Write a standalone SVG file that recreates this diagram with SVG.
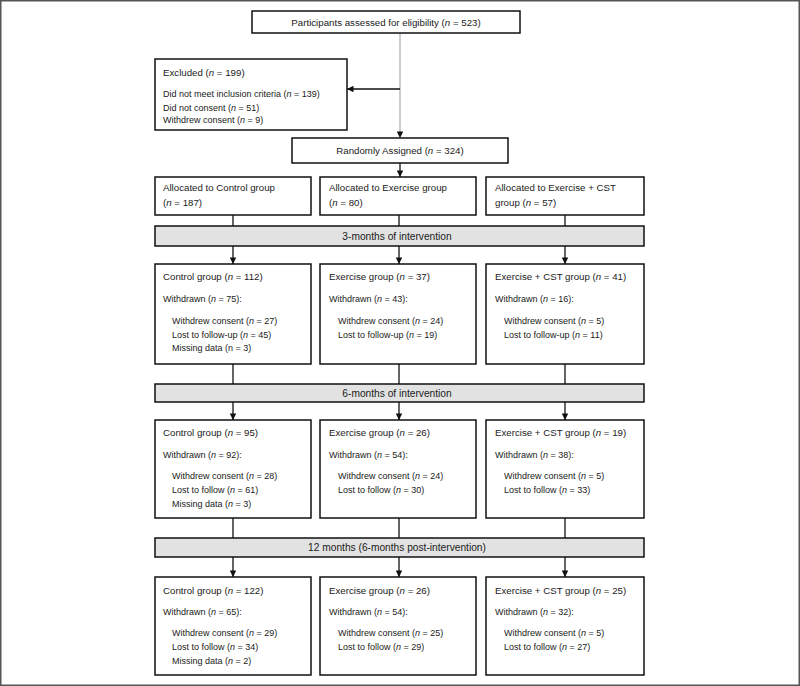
<svg xmlns="http://www.w3.org/2000/svg" width="800" height="686" viewBox="0 0 800 686">
<style>
  text { font-family: "Liberation Sans", Arial, sans-serif; fill: #1a1a1a; }
  .h { font-size: 9.7px; }
  .d { font-size: 9px; }
  .b { font-size: 10.2px; }
  .i { font-style: italic; }
  .box { fill: #fff; stroke: #111; stroke-width: 1.5; }
  .bar { fill: #e2e2e2; stroke: #111; stroke-width: 1.5; }
  .c { stroke: #111; stroke-width: 1.3; fill: none; }
  .g { stroke: #999; stroke-width: 1; fill: none; }
</style>
<defs>
  <marker id="ah" viewBox="0 0 10 10" refX="10" refY="5" markerWidth="7" markerHeight="6.5" orient="auto" markerUnits="userSpaceOnUse">
    <path d="M0,0 L10,5 L0,10 z" fill="#111"/>
  </marker>
</defs>
<rect x="0.75" y="0.75" width="798.5" height="684.5" fill="#fff" stroke="#555" stroke-width="1.5"/>

<g id="connectors">
  <line class="g" x1="400" y1="33" x2="400" y2="138" marker-end="url(#ah)"/>
  <line class="c" x1="400" y1="89" x2="347" y2="89" marker-end="url(#ah)"/>
  <line class="c" x1="400" y1="163" x2="400" y2="177" marker-end="url(#ah)"/>
  <line class="c" x1="233" y1="215" x2="233" y2="226"/>
  <line class="c" x1="399" y1="215" x2="399" y2="226"/>
  <line class="c" x1="565" y1="215" x2="565" y2="226"/>
  <line class="c" x1="233" y1="246" x2="233" y2="264" marker-end="url(#ah)"/>
  <line class="c" x1="399" y1="246" x2="399" y2="264" marker-end="url(#ah)"/>
  <line class="c" x1="565" y1="246" x2="565" y2="264" marker-end="url(#ah)"/>
  <line class="c" x1="233" y1="364" x2="233" y2="384"/>
  <line class="c" x1="399" y1="364" x2="399" y2="384"/>
  <line class="c" x1="565" y1="364" x2="565" y2="384"/>
  <line class="c" x1="233" y1="402" x2="233" y2="420" marker-end="url(#ah)"/>
  <line class="c" x1="399" y1="402" x2="399" y2="420" marker-end="url(#ah)"/>
  <line class="c" x1="565" y1="402" x2="565" y2="420" marker-end="url(#ah)"/>
  <line class="c" x1="233" y1="518" x2="233" y2="538"/>
  <line class="c" x1="399" y1="518" x2="399" y2="538"/>
  <line class="c" x1="565" y1="518" x2="565" y2="538"/>
  <line class="c" x1="233" y1="557" x2="233" y2="577" marker-end="url(#ah)"/>
  <line class="c" x1="399" y1="557" x2="399" y2="577" marker-end="url(#ah)"/>
  <line class="c" x1="565" y1="557" x2="565" y2="577" marker-end="url(#ah)"/>
</g>

<g id="assessed">
  <rect class="box" x="252" y="11" width="268" height="22"/>
  <text class="h" x="386" y="25.5" text-anchor="middle">Participants assessed for eligibility (<tspan class="i">n</tspan> = 523)</text>
</g>

<g id="excluded">
  <rect class="box" x="155" y="59" width="192" height="71"/>
  <text class="h" x="163" y="76">Excluded (<tspan class="i">n</tspan> = 199)</text>
  <text class="d" x="163" y="97">Did not meet inclusion criteria (<tspan class="i">n</tspan> = 139)</text>
  <text class="d" x="163" y="110.5">Did not consent (<tspan class="i">n</tspan> = 51)</text>
  <text class="d" x="163" y="123">Withdrew consent (<tspan class="i">n</tspan> = 9)</text>
</g>

<g id="randomized">
  <rect class="box" x="292" y="138" width="216" height="25"/>
  <text class="h" x="400" y="153.5" text-anchor="middle">Randomly Assigned (<tspan class="i">n</tspan> = 324)</text>
</g>

<g id="alloc-control">
  <rect class="box" x="155" y="177" width="156" height="38"/>
  <text class="h" x="163" y="191">Allocated to Control group</text>
  <text class="h" x="163" y="206">(<tspan class="i">n</tspan> = 187)</text>
</g>
<g id="alloc-exercise">
  <rect class="box" x="320" y="177" width="156" height="38"/>
  <text class="h" x="329" y="191">Allocated to Exercise group</text>
  <text class="h" x="329" y="206">(<tspan class="i">n</tspan> = 80)</text>
</g>
<g id="alloc-cst">
  <rect class="box" x="486" y="177" width="158" height="38"/>
  <text class="h" x="495" y="191">Allocated to Exercise + CST</text>
  <text class="h" x="495" y="206">group (<tspan class="i">n</tspan> = 57)</text>
</g>

<g id="bar-3m">
  <rect class="bar" x="155" y="226" width="489" height="20"/>
  <text class="b" x="397" y="239.5" text-anchor="middle">3-months of intervention</text>
</g>

<g id="r1-control">
  <rect class="box" x="155" y="264" width="156" height="100"/>
  <text class="h" x="163" y="280">Control group (<tspan class="i">n</tspan> = 112)</text>
  <text class="d" x="163" y="302">Withdrawn (<tspan class="i">n</tspan> = 75):</text>
  <text class="d" x="172" y="323.5">Withdrew consent (<tspan class="i">n</tspan> = 27)</text>
  <text class="d" x="172" y="337.5">Lost to follow-up (<tspan class="i">n</tspan> = 45)</text>
  <text class="d" x="172" y="351">Missing data (n = 3)</text>
</g>
<g id="r1-exercise">
  <rect class="box" x="320" y="264" width="156" height="100"/>
  <text class="h" x="329" y="280">Exercise group (<tspan class="i">n</tspan> = 37)</text>
  <text class="d" x="329" y="302">Withdrawn (<tspan class="i">n</tspan> = 43):</text>
  <text class="d" x="338" y="323.5">Withdrew consent (<tspan class="i">n</tspan> = 24)</text>
  <text class="d" x="338" y="337.5">Lost to follow-up (<tspan class="i">n</tspan> = 19)</text>
</g>
<g id="r1-cst">
  <rect class="box" x="486" y="264" width="158" height="100"/>
  <text class="h" x="495" y="280">Exercise + CST group (<tspan class="i">n</tspan> = 41)</text>
  <text class="d" x="495" y="302">Withdrawn (<tspan class="i">n</tspan> = 16):</text>
  <text class="d" x="504" y="323.5">Withdrew consent (<tspan class="i">n</tspan> = 5)</text>
  <text class="d" x="504" y="337.5">Lost to follow-up (<tspan class="i">n</tspan> = 11)</text>
</g>

<g id="bar-6m">
  <rect class="bar" x="155" y="384" width="489" height="18"/>
  <text class="b" x="397" y="396.5" text-anchor="middle">6-months of intervention</text>
</g>

<g id="r2-control">
  <rect class="box" x="155" y="420" width="156" height="98"/>
  <text class="h" x="163" y="435.5">Control group (<tspan class="i">n</tspan> = 95)</text>
  <text class="d" x="163" y="457.5">Withdrawn (<tspan class="i">n</tspan> = 92):</text>
  <text class="d" x="172" y="479">Withdrew consent (<tspan class="i">n</tspan> = 28)</text>
  <text class="d" x="172" y="493">Lost to follow (<tspan class="i">n</tspan> = 61)</text>
  <text class="d" x="172" y="507">Missing data (<tspan class="i">n</tspan> = 3)</text>
</g>
<g id="r2-exercise">
  <rect class="box" x="320" y="420" width="156" height="98"/>
  <text class="h" x="329" y="435.5">Exercise group (<tspan class="i">n</tspan> = 26)</text>
  <text class="d" x="329" y="457.5">Withdrawn (<tspan class="i">n</tspan> = 54):</text>
  <text class="d" x="338" y="479">Withdrew consent (<tspan class="i">n</tspan> = 24)</text>
  <text class="d" x="338" y="493">Lost to follow (<tspan class="i">n</tspan> = 30)</text>
</g>
<g id="r2-cst">
  <rect class="box" x="486" y="420" width="158" height="98"/>
  <text class="h" x="495" y="435.5">Exercise + CST group (<tspan class="i">n</tspan> = 19)</text>
  <text class="d" x="495" y="457.5">Withdrawn (<tspan class="i">n</tspan> = 38):</text>
  <text class="d" x="504" y="479">Withdrew consent (<tspan class="i">n</tspan> = 5)</text>
  <text class="d" x="504" y="493">Lost to follow (<tspan class="i">n</tspan> = 33)</text>
</g>

<g id="bar-12m">
  <rect class="bar" x="155" y="538" width="489" height="19"/>
  <text class="b" x="397" y="551" text-anchor="middle">12 months (6-months post-intervention)</text>
</g>

<g id="r3-control">
  <rect class="box" x="155" y="577" width="156" height="98"/>
  <text class="h" x="163" y="593.5">Control group (<tspan class="i">n</tspan> = 122)</text>
  <text class="d" x="163" y="615">Withdrawn (<tspan class="i">n</tspan> = 65):</text>
  <text class="d" x="172" y="636">Withdrew consent (<tspan class="i">n</tspan> = 29)</text>
  <text class="d" x="172" y="650">Lost to follow (<tspan class="i">n</tspan> = 34)</text>
  <text class="d" x="172" y="664">Missing data (<tspan class="i">n</tspan> = 2)</text>
</g>
<g id="r3-exercise">
  <rect class="box" x="320" y="577" width="156" height="98"/>
  <text class="h" x="329" y="593.5">Exercise group (<tspan class="i">n</tspan> = 26)</text>
  <text class="d" x="329" y="615">Withdrawn (<tspan class="i">n</tspan> = 54):</text>
  <text class="d" x="338" y="636">Withdrew consent (<tspan class="i">n</tspan> = 25)</text>
  <text class="d" x="338" y="650">Lost to follow (<tspan class="i">n</tspan> = 29)</text>
</g>
<g id="r3-cst">
  <rect class="box" x="486" y="577" width="158" height="98"/>
  <text class="h" x="495" y="593.5">Exercise + CST group (<tspan class="i">n</tspan> = 25)</text>
  <text class="d" x="495" y="615">Withdrawn (<tspan class="i">n</tspan> = 32):</text>
  <text class="d" x="504" y="636">Withdrew consent (<tspan class="i">n</tspan> = 5)</text>
  <text class="d" x="504" y="650">Lost to follow (<tspan class="i">n</tspan> = 27)</text>
</g>
</svg>
